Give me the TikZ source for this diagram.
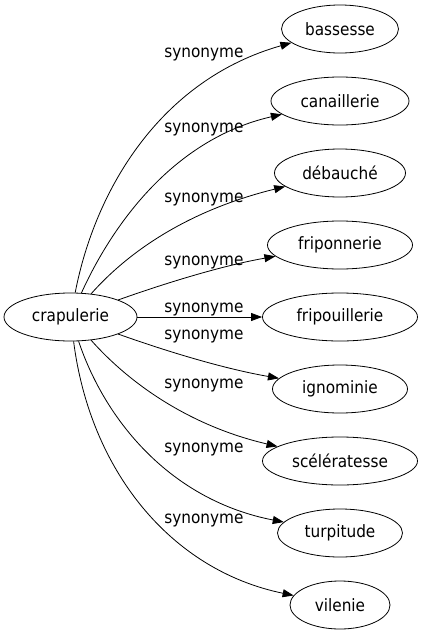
\documentclass[tikz,border=0pt]{standalone}
\usepackage{fontspec}
\setmainfont{DejaVu Sans Condensed}
\usetikzlibrary{shapes.geometric,arrows.meta}

\begin{document}
\begin{tikzpicture}[x=1pt, y=-1pt,
        word/.style={draw, ellipse, inner sep=0pt, minimum height=48pt, line width=0.8pt, font=\fontsize{17}{20}\selectfont},
        syn/.style={anchor=base, font=\fontsize{17}{20}\selectfont},
        rel/.style={-{Triangle[length=11pt,width=8pt]}, line width=0.8pt}]

        \useasboundingbox (0,0) rectangle (422,635);

        \node [word, minimum width=133pt] (crapulerie) at (70.5,317) {crapulerie};

        \node [word, minimum width=117pt] (bassesse) at (340,29) {bassesse};
        \node [word, minimum width=138pt] (canaillerie) at (340,101) {canaillerie};
        \node [word, minimum width=131pt] (debauche) at (340,173) {débauché};
        \node [word, minimum width=145pt] (friponnerie) at (340,245) {friponnerie};
        \node [word, minimum width=155pt] (fripouillerie) at (340,317) {fripouillerie};
        \node [word, minimum width=135pt] (ignominie) at (340,389) {ignominie};
        \node [word, minimum width=155pt] (sceleratesse) at (340,461) {scélératesse};
        \node [word, minimum width=125pt] (turpitude) at (340,533) {turpitude};
        \node [word, minimum width=100pt] (vilenie) at (340,605) {vilenie};

        \draw [rel] (crapulerie) .. controls (95,190) and (160,80) .. (bassesse);
        \draw [rel] (crapulerie) .. controls (110,230) and (170,140) .. (canaillerie);
        \draw [rel] (crapulerie) .. controls (130,250) and (190,210) .. (debauche);
        \draw [rel] (crapulerie) .. controls (160,285) and (220,266) .. (friponnerie);
        \draw [rel] (crapulerie) -- (fripouillerie);
        \draw [rel] (crapulerie) .. controls (160,349) and (220,368) .. (ignominie);
        \draw [rel] (crapulerie) .. controls (130,384) and (190,426) .. (sceleratesse);
        \draw [rel] (crapulerie) .. controls (105,420) and (170,500) .. (turpitude);
        \draw [rel] (crapulerie) .. controls (90,470) and (170,570) .. (vilenie);

        \node [syn] (syn1) at (204,57) {synonyme};
        \node [syn] (syn2) at (204,132) {synonyme};
        \node [syn] (syn3) at (204,202) {synonyme};
        \node [syn] (syn4) at (204,265) {synonyme};
        \node [syn] (syn5) at (204,312) {synonyme};
        \node [syn] (syn6) at (204,339) {synonyme};
        \node [syn] (syn7) at (204,388) {synonyme};
        \node [syn] (syn8) at (204,452) {synonyme};
        \node [syn] (syn9) at (204,523) {synonyme};

\end{tikzpicture}
\end{document}
